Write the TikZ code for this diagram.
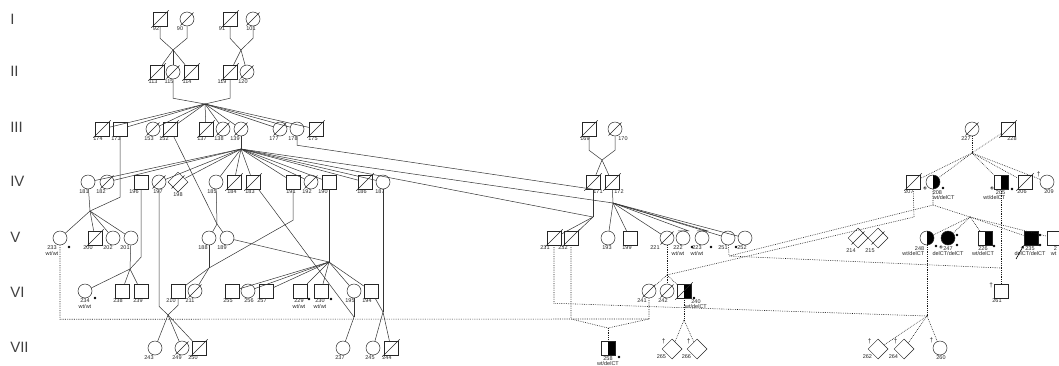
\documentclass[tikz,border=0pt]{standalone}
\usepackage{fontspec}
\setmainfont{Liberation Sans}
\usetikzlibrary{shapes.geometric, arrows.meta, positioning, calc}

\tikzset{
    ind/.style={draw=black!85, inner sep=0pt, minimum size=14pt},
    male/.style={ind, rectangle},
    female/.style={ind, circle},
    unkn/.style={ind, diamond, minimum size=20pt},
    dead/.style={append after command={(\tikzlastnode.south west) edge[draw=black!85, shorten <=-2pt, shorten >=-2pt] (\tikzlastnode.north east)}},
    halfblack/.style={path picture={\fill[black] (path picture bounding box.north) rectangle (path picture bounding box.south east);}},
    allblack/.style={fill=black},
    num/.style={font=\fontsize{5.5}{5.5}\selectfont, inner sep=0.6pt, align=center, text=black!85},
    lbl/.style={label={[num, xshift=-4pt]below:#1}},
    lblx/.style 2 args={label={[num, xshift=#1]below:#2}},
    dag/.style={label={[num, font=\fontsize{6.5}{6.5}\selectfont]#1:\textdagger}},
    genno/.style={font=\fontsize{15}{15}\selectfont, anchor=west, inner sep=0pt, text=black!75},
    kin/.style={draw=black!80},
    kinx/.style={draw=black!90, line width=0.6pt, dash pattern=on 0.7pt off 1.1pt},
}

\begin{document}
\begin{tikzpicture}[x=1pt, y=-1pt, line width=0.5pt]
    \useasboundingbox (0,0) rectangle (1059,365);
    \clip (0,0) rectangle (1059,365);

    % generations
    \node[genno] (gI) at (10,19) {I};
    \node[genno] (gII) at (10,71) {II};
    \node[genno] (gIII) at (10,127) {III};
    \node[genno] (gIV) at (10,181) {IV};
    \node[genno] (gV) at (10,237) {V};
    \node[genno] (gVI) at (10,292) {VI};
    \node[genno] (gVII) at (10,347) {VII};

    % I
    \node[male, dead, lbl=92] (p92) at (160,19) {};
    \node[female, dead, lblx={-7pt}{90}] (p90) at (187,19) {};
    \node[male, dead, lblx={-8pt}{91}] (p91) at (230,19) {};
    \node[female, dead, lblx={-2pt}{101}] (p101) at (253,19) {};

    % II
    \node[male, dead, lbl=113] (p113) at (157,72) {};
    \node[female, dead, lbl=115] (p115) at (173,72) {};
    \node[male, dead, lbl=114] (p114) at (191,72) {};
    \node[male, dead, lblx={-8pt}{119}] (p119) at (230,72) {};
    \node[female, dead, lbl=120] (p120) at (247,72) {};

    % III
    \node[male, dead, lbl=174] (p174) at (102,129) {};
    \node[male, lbl=173] (p173) at (120,129) {};
    \node[female, dead, lbl=153] (p153) at (153,129) {};
    \node[male, dead, lblx={-6pt}{152}] (p152) at (170,129) {};
    \node[male, dead, lbl=137] (p137) at (206,129) {};
    \node[female, dead, lbl=138] (p138) at (223,129) {};
    \node[female, dead, lblx={-6pt}{139}] (p139) at (241,129) {};
    \node[female, dead, lblx={-6pt}{177}] (p177) at (280,129) {};
    \node[female, lbl=178] (p178) at (297,129) {};
    \node[male, dead, lblx={-3pt}{175}] (p175) at (316,129) {};
    \node[male, dead, lbl=169] (p169) at (589,129) {};
    \node[female, dead, lblx={8pt}{170}] (p170) at (615,129) {};
    \node[female, dead, lblx={-6pt}{227}] (p227) at (972,129) {};
    \node[male, dead, lblx={4pt}{228}] (p228) at (1008,129) {};

    % IV
    \node[female, lbl=181] (p181) at (88,182) {};
    \node[female, dead, lblx={-6pt}{182}] (p182) at (107,182) {};
    \node[male, lblx={-7pt}{196}] (p196) at (141,182) {};
    \node[female, dead, lblx={-1pt}{197}] (p197) at (159,182) {};
    \node[unkn, dead, lblx={0pt}{198}] (p198) at (178,182) {};
    \node[female, lbl=185] (p185) at (216,182) {};
    \node[male, dead, lblx={-2pt}{184}] (p184) at (234,182) {};
    \node[male, dead, lblx={-3pt}{183}] (p183) at (253,182) {};
    \node[male, lblx={-2pt}{191}] (p191) at (293,182) {};
    \node[female, dead, lbl=192] (p192) at (311,182) {};
    \node[male, lblx={-6pt}{190}] (p190) at (329,182) {};
    \node[male, dead, lblx={-3pt}{186}] (p186) at (365,182) {};
    \node[female, lblx={-3pt}{187}] (p187) at (383,182) {};
    \node[male, dead, lblx={5pt}{171}] (p171) at (593,182) {};
    \node[male, dead, lblx={7pt}{172}] (p172) at (612,182) {};
    \node[male, dead, lbl=207] (p207) at (913,182) {};
    \node[female, halfblack] (p208) at (933,182) {};
    \node[male, halfblack] (p205) at (1001,182) {};
    \node[male, dead, lblx={-3pt}{206}] (p206) at (1025,182) {};
    \node[female, dag=140, lblx={2pt}{209}] (p209) at (1047,182) {};

    % V
    \node[female, lblx={-8pt}{233\\wt/wt}] (p233) at (60,238) {};
    \node[male, dead, lblx={-7pt}{200}] (p200) at (95,238) {};
    \node[female, lblx={-5pt}{202}] (p202) at (113,238) {};
    \node[female, lblx={-6pt}{201}] (p201) at (131,238) {};
    \node[female, lblx={-6pt}{188}] (p188) at (209,238) {};
    \node[female, lblx={-5pt}{189}] (p189) at (227,238) {};
    \node[male, dead, lblx={-9pt}{231}] (p231) at (554,238) {};
    \node[male, dead, lblx={-8pt}{232}] (p232) at (571,238) {};
    \node[female, lblx={-1pt}{193}] (p193) at (608,238) {};
    \node[male, lblx={-3pt}{199}] (p199) at (630,238) {};
    \node[female, dead, lblx={-12pt}{221}] (p221) at (667,238) {};
    \node[female, lblx={-5pt}{222\\wt/wt}] (p222) at (683,238) {};
    \node[female, lblx={-5pt}{223\\wt/wt}] (p223) at (702,238) {};
    \node[female, lblx={-5pt}{251}] (p251) at (728,238) {};
    \node[female, lblx={-3pt}{252}] (p252) at (745,238) {};
    \node[unkn, dead, lblx={-7pt}{214}] (p214) at (858,238) {};
    \node[unkn, dead, lblx={-8pt}{215}] (p215) at (878,238) {};
    \node[female, halfblack] (p248) at (927,238) {};
    \node[female, allblack] (p247) at (948,238) {};
    \node[male, halfblack] (p226) at (985,238) {};
    \node[male, allblack] (p235) at (1031,238) {};
    \node[male] (p236) at (1054,238) {};

    % VI
    \node[female, lblx={0pt}{234\\wt/wt}] (p234) at (85,291) {};
    \node[male, lbl=238] (p238) at (122,291) {};
    \node[male, lblx={-3pt}{239}] (p239) at (141,291) {};
    \node[male, lblx={-7pt}{210}] (p210) at (178,291) {};
    \node[female, dead, lblx={-5pt}{211}] (p211) at (195,291) {};
    \node[male, lbl=255] (p255) at (232,291) {};
    \node[female, lblx={1pt}{256}] (p256) at (248,291) {};
    \node[male, lbl=257] (p257) at (266,291) {};
    \node[male, lblx={-1pt}{229\\wt/wt}] (p229) at (300,291) {};
    \node[male, lblx={-1pt}{230\\wt/wt}] (p230) at (321,291) {};
    \node[female, lbl=195] (p195) at (354,291) {};
    \node[male, lbl=194] (p194) at (371,291) {};
    \node[female, dead, lblx={-7pt}{241}] (p241) at (649,291) {};
    \node[female, dead, lbl=242] (p242) at (667,291) {};
    \node[male, dead, halfblack] (p240) at (684,291) {};
    \node[male, dag=160, lbl=261] (p261) at (1001,291) {};

    % VII
    \node[female, lblx={-6pt}{243}] (p243) at (155,348) {};
    \node[female, dead, lblx={-5pt}{249}] (p249) at (182,348) {};
    \node[male, dead, lblx={-6pt}{250}] (p250) at (199,348) {};
    \node[female, lblx={-3pt}{237}] (p237) at (343,348) {};
    \node[female, lblx={-3pt}{245}] (p245) at (373,348) {};
    \node[male, dead, lbl=244] (p244) at (391,348) {};
    \node[male, halfblack] (p258) at (608,348) {};
    \node[unkn, dag=140, label={[num]-135:265}] (p265) at (672,349) {};
    \node[unkn, dag=140, label={[num]-135:266}] (p266) at (697,349) {};
    \node[unkn, dag=140, label={[num]-135:262}] (p262) at (878,349) {};
    \node[unkn, dag=140, label={[num]-135:264}] (p264) at (904,349) {};
    \node[female, dag=145, lblx={1pt}{260}] (p260) at (940,348) {};

    % genotype texts
    \node[num, anchor=north west, align=left] (t208) at (932,189.5) {208\\wt/delCT};
    \node[num, anchor=north east, align=right] (t205) at (1006,189.5) {205\\wt/delCT};
    \node[num, anchor=north east, align=right] (t248) at (925,245.5) {248\\wt/delCT};
    \node[num, anchor=north] (t247) at (948,245.5) {247\\delCT/delCT};
    \node[num, anchor=north] (t226) at (983,245.5) {226\\wt/delCT};
    \node[num, anchor=north] (t235) at (1030,245.5) {235\\delCT/delCT};
    \node[num, anchor=north west, align=left] (t236) at (1050,245.5) {\ \ 2\\wt};
    \node[num, anchor=north] (t240) at (696,298.5) {240\\wt/delCT};
    \node[num, anchor=north] (t258) at (608,355.5) {258\\wt/delCT};

    % carrier dots
    \fill (p233) ++(9,9) circle (1.4pt);
    \fill (p234) ++(10,7) circle (1.4pt);
    \fill (p229) ++(9,8) circle (1.4pt);
    \fill (p230) ++(10,8) circle (1.4pt);
    \fill (p222) ++(9,9) circle (1.4pt);
    \fill (p223) ++(9,9) circle (1.4pt);
    \fill (p251) ++(8,9) circle (1.4pt);
    \fill (p208) ++(10,6) circle (1.4pt);
    \fill (p205) ++(11,7) circle (1.4pt);
    \fill (p248) ++(9,8) circle (1.4pt);
    \fill (p247) ++(9,-3) circle (1.4pt);
    \fill (p247) ++(9,7) circle (1.4pt);
    \fill (p226) ++(9,8) circle (1.4pt);
    \fill (p235) ++(9,-3) circle (1.4pt);
    \fill (p235) ++(9,7) circle (1.4pt);
    \fill (p240) ++(10,7) circle (1.4pt);
    \fill (p258) ++(11,9) circle (1.4pt);
    \draw[line width=0.4pt] (p208) ++(-8,6) circle (1.3pt);
    \draw[line width=0.4pt] (p205) ++(-9,6) circle (1.3pt);
    \draw[line width=0.4pt] (p247) ++(-7,9) circle (1.3pt);

    % proband
    \coordinate (a235) at (1016,259);
    \draw[-{Stealth[length=3.5pt, width=3pt]}, line width=0.6pt] (a235) -- (p235.south west);

    % junctions
    \coordinate (c1) at (173,50);
    \coordinate (c2) at (241,50);
    \coordinate (c3) at (205,104);
    \coordinate (f139) at (241,149);
    \coordinate (x181) at (90,211);
    \coordinate (x185) at (217,224);
    \coordinate (x201) at (130,269);
    \coordinate (x210) at (168,315);
    \coordinate (x188) at (209,268);
    \coordinate (x190) at (329,262);
    \coordinate (x195) at (354,317);
    \coordinate (x187) at (383,312);
    \coordinate (c169) at (602,160);
    \coordinate (j171) at (593,217);
    \coordinate (j172) at (613,203);
    \coordinate (f227) at (972,153);
    \coordinate (j207) at (914,217);
    \coordinate (j208) at (933,205);
    \coordinate (f2) at (970,217);
    \coordinate (j221) at (667,275);
    \coordinate (m1) at (571,319);
    \coordinate (m2) at (649,319);
    \coordinate (j258) at (608,328);
    \coordinate (j262) at (927,316);
    \coordinate (j240) at (684,320);
    \coordinate (j251) at (729,256);
    \coordinate (j261) at (1001,268);

    % I -> II
    \draw[kin] (p92.south) -- ++(0,12) -- (c1);
    \draw[kin] (p90.south) -- ++(0,12) -- (c1);
    \foreach \k in {113,115,114}
        \draw[kin] (c1) -- (p\k);
    \draw[kin] (p91.south) -- ++(0,12) -- (c2);
    \draw[kin] (p101.south) -- ++(0,12) -- (c2);
    \foreach \k in {119,120}
        \draw[kin] (c2) -- (p\k);

    % II -> III
    \draw[kin] (p115.south) -- ++(0,19) -- (c3);
    \draw[kin] (p119.south) -- ++(0,19) -- (c3);
    \foreach \k in {174,173,153,152,137,138,139,177,178,175}
        \draw[kin] (c3) -- (p\k);

    % III -> IV
    \draw[kin] (p139) -- (f139);
    \foreach \k in {181,182,197,198,185,184,183,191,192,190,186,187}
        \draw[kin] (f139) -- (p\k);
    \draw[kin] (f139) -- (j172);
    \draw[kin] (f139) -- (j171);
    \draw[kin] (p178.south) -- ++(0,9) -- (p171.south);
    \draw[kin] (p169.south) -- ++(0,14) -- (c169);
    \draw[kin] (p170.south) -- ++(0,14) -- (c169);
    \foreach \k in {171,172}
        \draw[kin] (c169) -- (p\k);

    % IV -> V
    \draw[kin] (p173.south) -- ++(0,61) -- (x181);
    \draw[kin] (p181) -- (x181);
    \foreach \k in {233,200,202,201}
        \draw[kin] (x181) -- (p\k);
    \draw[kin] (p152) -- (x185);
    \draw[kin] (p185) -- (x185);
    \foreach \k in {188,189}
        \draw[kin] (x185) -- (p\k);
    \draw[kin] (p171) -- (j171);
    \foreach \k in {231,232}
        \draw[kin] (j171) -- (p\k);
    \draw[kin] (p172) -- (j172);
    \foreach \k in {193,199,221,251,252}
        \draw[kin] (j172) -- (p\k);
    \foreach \k in {222,223}
        \draw[kin] (j172) -- (p\k.north east |- p\k.north) -- (p\k.north west |- p\k.north);

    % V -> VI -> VII
    \draw[kin] (p196.south) -- ++(0,68) -- (x201);
    \draw[kin] (p201) -- (x201);
    \foreach \k in {234,238,239}
        \draw[kin] (x201) -- (p\k);
    \draw[kin] (p191.south) -- ++(0,31) -- (x188);
    \draw[kin] (p188) -- (x188);
    \foreach \k in {210,211}
        \draw[kin] (x188) -- (p\k);
    \draw[kin] (p190) -- (x190);
    \draw[kin] (p189) -- (x190);
    \foreach \k in {255,256,257,229,230,195,194}
        \draw[kin] (x190) -- (p\k);
    \draw[kin] (p197.south) -- ++(0,117) -- (x210);
    \draw[kin] (p210.south) -- ++(0,7) -- (x210);
    \foreach \k in {243,249,250}
        \draw[kin] (x210) -- (p\k);
    \draw[kin] (p183) -- (x195);
    \draw[kin] (p195) -- (x195);
    \draw[kin] (x195) -- (p237);
    \draw[kin] (p187) -- (x187);
    \draw[kin] (p194) -- (x187);
    \foreach \k in {245,244}
        \draw[kin] (x187) -- (p\k);

    % dotted links
    \draw[kinx] (p227) -- (f227);
    \draw[kinx] (p228) -- (f227);
    \foreach \k in {207,208,205,206,209}
        \draw[kinx] (f227) -- (p\k);
    \draw[kinx] (p208) -- (j208) -- (f2);
    \draw[kinx] (j208) -- (j251) -- (j261);
    \draw[kinx] (p251) -- (j251);
    \draw[kinx] (p207) -- (j207) -- (j221);
    \foreach \k in {248,247,226,235,236}
        \draw[kinx] (f2) -- (p\k);
    \draw[kinx] (p221) -- (j221);
    \foreach \k in {241,242,240}
        \draw[kinx] (j221) -- (p\k);
    \draw[kinx] (p233.south) -- ++(0,74) -- (m2);
    \draw[kinx] (p232) -- (m1) -- (j258);
    \draw[kinx] (p241) -- (m2) -- (j258);
    \draw[kinx] (j258) -- (p258);
    \draw[kinx] (p231.south) -- ++(0,58) -- (j262);
    \draw[kinx] (p248) -- (j262);
    \foreach \k in {262,264,260}
        \draw[kinx] (j262) -- (p\k);
    \draw[kinx] (p240) -- (j240);
    \foreach \k in {265,266}
        \draw[kinx] (j240) -- (p\k);
    \draw[kinx] (p205) -- (p261);
\end{tikzpicture}
\end{document}
